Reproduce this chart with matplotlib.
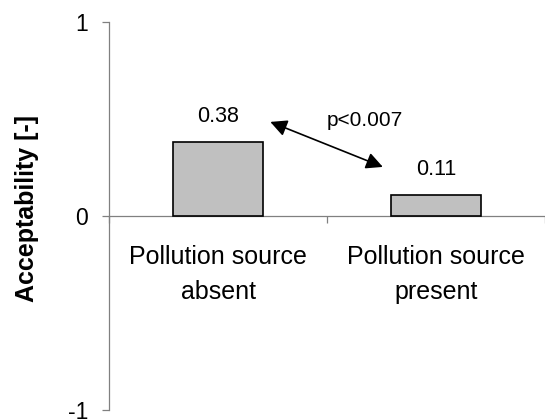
import matplotlib.pyplot as plt

# Acceptability data
categories = ['Pollution source\nabsent', 'Pollution source\npresent']
acceptability = [0.38, 0.11]
value_labels = ['0.38', '0.11']
p_text = 'p<0.007'

plt.rcParams['font.family'] = ['Liberation Sans', 'DejaVu Sans']

fig = plt.figure(figsize=(5.45, 4.19), dpi=100)
ax = fig.add_axes([109 / 545, 1 - 410 / 419, 1 - 109 / 545, (410 - 22) / 419])

x = range(len(categories))
ax.bar(x, acceptability, width=0.41, color='#C0C0C0', edgecolor='black', linewidth=1.2, zorder=3)

# Value labels above bars
for xi, v, lab in zip(x, acceptability, value_labels):
    ax.annotate(lab, (xi, v), xytext=(0, 14.5), textcoords='offset points',
                ha='center', va='baseline', fontsize=15.5)

# Significance arrow between the two bars
ax.annotate('', xy=(0.24, 0.485), xytext=(0.756, 0.253),
            arrowprops=dict(arrowstyle='<|-|>,head_length=0.5,head_width=0.25', color='black',
                            lw=1.2, mutation_scale=20, shrinkA=0, shrinkB=0))
ax.text(0.673, 0.464, p_text, ha='center', va='baseline', fontsize=15)

# Axes
ax.spines['top'].set_visible(False)
ax.spines['right'].set_visible(False)
ax.spines['bottom'].set_position(('data', 0))
for s in ('left', 'bottom'):
    ax.spines[s].set_color('#808080')
    ax.spines[s].set_linewidth(0.9)

ax.tick_params(axis='y', direction='out', length=5, width=0.9, color='#808080',
               labelsize=16.5, pad=10)
ax.tick_params(axis='x', which='major', length=0, pad=21)
ax.tick_params(axis='x', which='minor', direction='out', length=5, width=0.9, color='#808080')

ax.set_ylim(-1, 1)
ax.set_xlim(-0.4955, 1.4596)
ax.set_yticks([-1, 0, 1])
ax.set_yticklabels(['-1', '0', '1'])
ax.set_xticks(list(x))
ax.set_xticks([-0.5, 0.5, 1.5], minor=True)
ax.set_xticklabels(categories, fontsize=18, linespacing=1.55)

fig.text(27 / 545, 1 - 208 / 419, 'Acceptability [-]', rotation=90, ha='center', va='center',
         fontsize=18, fontweight='bold')

fig.savefig('out.png', dpi=100)
